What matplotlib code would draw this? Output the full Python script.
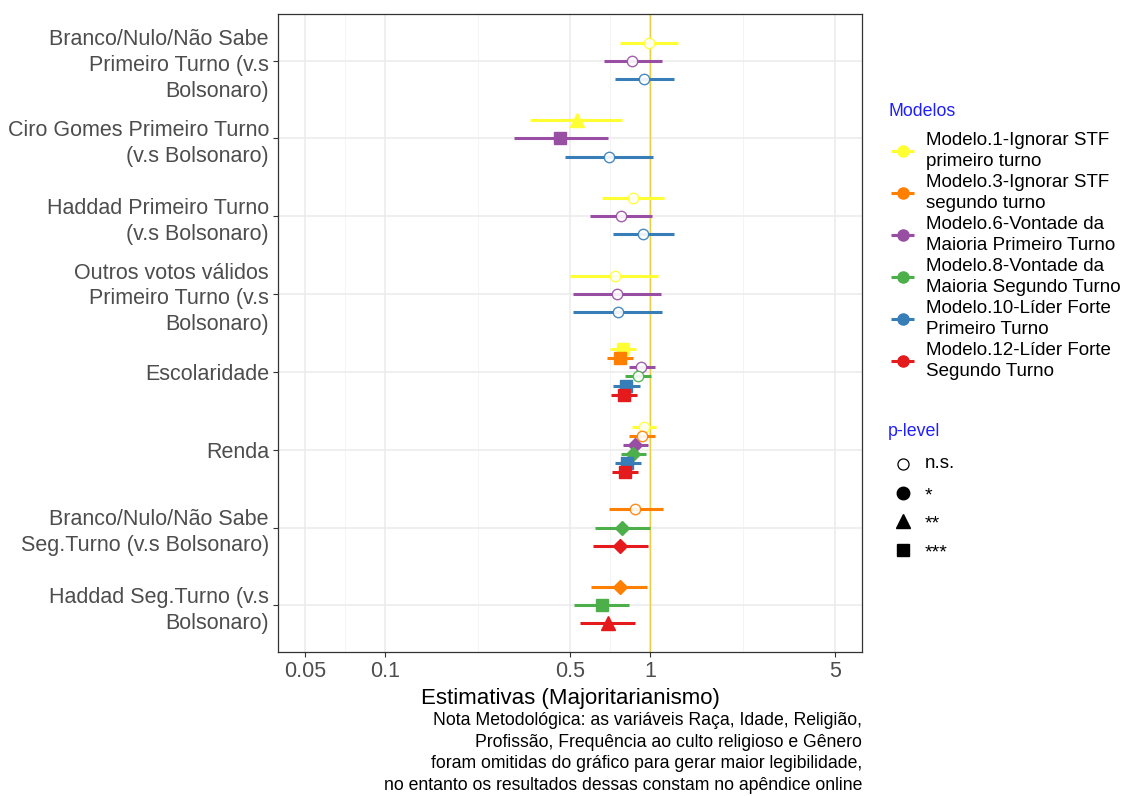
import numpy as np
import matplotlib
matplotlib.use("Agg")
import matplotlib.pyplot as plt

plt.rcParams['font.family'] = ['Liberation Sans', 'DejaVu Sans']

categories = [
    "Branco/Nulo/Não Sabe\nPrimeiro Turno (v.s\nBolsonaro)",
    "Ciro Gomes Primeiro Turno\n(v.s Bolsonaro)",
    "Haddad Primeiro Turno\n(v.s Bolsonaro)",
    "Outros votos válidos\nPrimeiro Turno (v.s\nBolsonaro)",
    "Escolaridade",
    "Renda",
    "Branco/Nulo/Não Sabe\nSeg.Turno (v.s Bolsonaro)",
    "Haddad Seg.Turno (v.s\nBolsonaro)",
]

model_labels = [
    "Modelo.1-Ignorar STF\nprimeiro turno",
    "Modelo.3-Ignorar STF\nsegundo turno",
    "Modelo.6-Vontade da\nMaioria Primeiro Turno",
    "Modelo.8-Vontade da\nMaioria Segundo Turno",
    "Modelo.10-Líder Forte\nPrimeiro Turno",
    "Modelo.12-Líder Forte\nSegundo Turno",
]
model_colors = ["#FFFF33", "#FF7F00", "#984EA3", "#4DAF4A", "#377EB8", "#E41A1C"]

nan = np.nan
# estimates per model (one value per category, nan = not in model)
est_m1 = [0.99, 0.53, 0.863, 0.736, 0.789, 0.949, nan, nan]
lo_m1 = [0.77, 0.353, 0.661, 0.498, 0.708, 0.853, nan, nan]
hi_m1 = [1.27, 0.786, 1.126, 1.075, 0.885, 1.05, nan, nan]
sig_m1 = ["ns", "**", "ns", "ns", "***", "ns", "", ""]

est_m3 = [nan, nan, nan, nan, 0.769, 0.93, 0.88, 0.769]
lo_m3 = [nan, nan, nan, nan, 0.688, 0.836, 0.70, 0.599]
hi_m3 = [nan, nan, nan, nan, 0.863, 1.04, 1.117, 0.974]
sig_m3 = ["", "", "", "", "***", "ns", "ns", "*"]

est_m6 = [0.857, 0.459, 0.779, 0.749, 0.925, 0.88, nan, nan]
lo_m6 = [0.672, 0.306, 0.596, 0.511, 0.831, 0.789, nan, nan]
hi_m6 = [1.107, 0.693, 1.015, 1.097, 1.04, 0.983, nan, nan]
sig_m6 = ["ns", "***", "ns", "ns", "ns", "*", "", ""]

est_m8 = [nan, nan, nan, nan, 0.899, 0.863, 0.784, 0.659]
lo_m8 = [nan, nan, nan, nan, 0.803, 0.777, 0.622, 0.515]
hi_m8 = [nan, nan, nan, nan, 1.006, 0.963, 1.0, 0.836]
sig_m8 = ["", "", "", "", "ns", "*", "*", "***"]

est_m10 = [0.949, 0.699, 0.941, 0.755, 0.814, 0.819, nan, nan]
lo_m10 = [0.738, 0.478, 0.725, 0.511, 0.727, 0.738, nan, nan]
hi_m10 = [1.228, 1.024, 1.235, 1.107, 0.917, 0.925, nan, nan]
sig_m10 = ["ns", "ns", "ns", "ns", "***", "***", "", ""]

est_m12 = [nan, nan, nan, nan, 0.80, 0.805, 0.772, 0.696]
lo_m12 = [nan, nan, nan, nan, 0.713, 0.719, 0.611, 0.546]
hi_m12 = [nan, nan, nan, nan, 0.893, 0.901, 0.983, 0.88]
sig_m12 = ["", "", "", "", "***", "***", "*", "**"]

ests = [est_m1, est_m3, est_m6, est_m8, est_m10, est_m12]
los = [lo_m1, lo_m3, lo_m6, lo_m8, lo_m10, lo_m12]
his = [hi_m1, hi_m3, hi_m6, hi_m8, hi_m10, hi_m12]
sigs = [sig_m1, sig_m3, sig_m6, sig_m8, sig_m10, sig_m12]

x_ticks = [0.05, 0.1, 0.5, 1, 5]
x_tick_labels = ["0.05", "0.1", "0.5", "1", "5"]
p_labels = ["n.s.", "*", "**", "***"]

W, H = 1127, 796
fig = plt.figure(figsize=(W / 100, H / 100), dpi=100)
L, R, T, B = 278, 862, 14, 652
ax = fig.add_axes([L / W, 1 - B / H, (R - L) / W, (B - T) / H])

ax.set_xscale("log")
xmin, xmax = 10 ** (-1.404), 10 ** (0.80)
ax.set_xlim(xmin, xmax)
ncat = len(categories)
ax.set_ylim(ncat - 1 + 0.6, -0.6)

# grid
lmaj = np.log10(x_ticks)
minors = 10 ** ((lmaj[:-1] + lmaj[1:]) / 2)
for m in minors:
    ax.axvline(m, color="#F2F2F2", lw=0.6, zorder=0)
for t in x_ticks:
    ax.axvline(t, color="#EBEBEB", lw=1.1, zorder=0)
for i in range(ncat):
    ax.axhline(i, color="#EBEBEB", lw=1.1, zorder=0)
ax.axvline(1, color="#E8CF45", lw=1.0, zorder=1)

marker_map = {"ns": "o", "*": "D", "**": "^", "***": "s"}
size_map = {"ns": 7.5, "*": 7.5, "**": 9.5, "***": 8.5}
dodge_total = 0.7

for c in range(ncat):
    present = [m for m in range(len(ests)) if not np.isnan(ests[m][c])]
    n = len(present)
    for j, m in enumerate(present):
        y = c + (j - (n - 1) / 2) * (dodge_total / n)
        col = model_colors[m]
        ax.plot([los[m][c], his[m][c]], [y, y], color=col, lw=2.2,
                solid_capstyle="butt", zorder=3)
        s = sigs[m][c]
        if s == "ns":
            ax.plot(ests[m][c], y, marker="o", ms=size_map[s],
                    mfc="white", mec=col, mew=1.0, ls="none", zorder=4, alpha=0.9)
        else:
            ax.plot(ests[m][c], y, marker=marker_map[s], ms=size_map[s],
                    mfc=col, mec=col, ls="none", zorder=4)

ax.set_xticks(x_ticks)
ax.set_xticklabels(x_tick_labels)
ax.xaxis.set_minor_locator(matplotlib.ticker.NullLocator())
ax.set_yticks(range(ncat))
ax.set_yticklabels(categories, linespacing=1.3, ha="right")
ax.tick_params(axis="both", colors="#333333", length=3.5, width=0.8,
               labelsize=15.5, labelcolor="#4D4D4D", pad=3)
for sp in ax.spines.values():
    sp.set_color("#333333")
    sp.set_linewidth(0.9)
ax.set_xlabel("Estimativas (Majoritarianismo)", fontsize=16, color="black", labelpad=4)

# overlay for legends and note (pixel coordinates)
ov = fig.add_axes([0, 0, 1, 1])
ov.set_xlim(0, W)
ov.set_ylim(H, 0)
ov.axis("off")

ov.text(888, 111, "Modelos", color="#1F1FFF", fontsize=12.8, va="center", ha="left")
for k, (lab, col) in enumerate(zip(model_labels, model_colors)):
    yc = 151 + k * 42
    ov.plot([891, 914], [yc, yc], color=col, lw=2.2, solid_capstyle="butt")
    ov.plot(902.5, yc, marker="o", ms=8, color=col, ls="none")
    ov.text(926, yc, lab, fontsize=13.5, va="center", ha="left", linespacing=1.28)

ov.text(888, 432, "p-level", color="#1F1FFF", fontsize=12.8, va="center", ha="left")
p_markers = ["o", "o", "^", "s"]
p_sizes = [13.5, 14, 14, 14]
for k, (lab, mk) in enumerate(zip(p_labels, p_markers)):
    yc = 464 + k * 28.7
    if k == 0:
        ov.plot(903, yc, marker="o", ms=8, mfc="white", mec="black", mew=0.9, ls="none")
    else:
        ov.plot(903, yc, marker=mk, ms=[0, 9, 10, 9][k], color="black", ls="none")
    ov.text(925, yc + (0 if k == 0 else 3), lab, fontsize=p_sizes[k], va="center", ha="left")

note = ("Nota Metodológica: as variáveis Raça, Idade, Religião,\n"
        "Profissão, Frequência ao culto religioso e Gênero\n"
        "foram omitidas do gráfico para gerar maior legibilidade,\n"
        "no entanto os resultados dessas constam no apêndice online")
ov.text(862, 712, note, fontsize=12.7, ha="right", va="top", multialignment="right",
        linespacing=1.36)

fig.savefig("out.png", dpi=100)
